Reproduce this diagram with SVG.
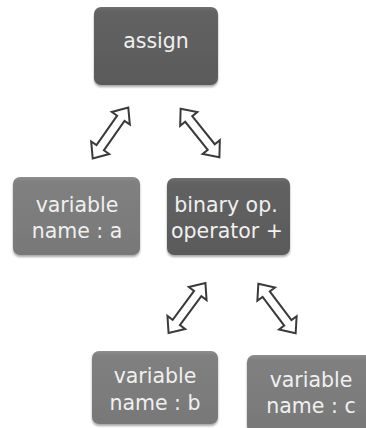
<svg xmlns="http://www.w3.org/2000/svg" width="366" height="428" viewBox="0 0 366 428">
  <defs>
    <linearGradient id="gDark" x1="0" y1="0" x2="0" y2="1">
      <stop offset="0" stop-color="#707070"/>
      <stop offset="0.06" stop-color="#626262"/>
      <stop offset="1" stop-color="#5a5a5a"/>
    </linearGradient>
    <linearGradient id="gLight" x1="0" y1="0" x2="0" y2="1">
      <stop offset="0" stop-color="#8e8e8e"/>
      <stop offset="0.06" stop-color="#808080"/>
      <stop offset="1" stop-color="#787878"/>
    </linearGradient>
    <filter id="shadow" x="-10%" y="-10%" width="120%" height="125%">
      <feGaussianBlur in="SourceAlpha" stdDeviation="1.2"/>
      <feOffset dx="0" dy="1.5" result="b"/>
      <feComponentTransfer><feFuncA type="linear" slope="0.35"/></feComponentTransfer>
      <feMerge><feMergeNode/><feMergeNode in="SourceGraphic"/></feMerge>
    </filter>
    <!-- hollow double-headed arrow, centred on the origin, pointing along x -->
    <path id="dblArrow" d="M-31,0 L-18,-11 L-18,-4.5 L18,-4.5 L18,-11 L31,0 L18,11 L18,4.5 L-18,4.5 L-18,11 Z"/>
  </defs>
  <style>
    .box { filter: url(#shadow); }
    .dark { fill: url(#gDark); }
    .light { fill: url(#gLight); }
    .label { font-family: "DejaVu Sans", Verdana, sans-serif; font-size: 20.5px; fill: #f0f0f0; text-anchor: middle; }
    .arrow { fill: #ffffff; stroke: #3a3a3a; stroke-width: 2; stroke-linejoin: miter; }
  </style>

  <g id="connectors">
    <use href="#dblArrow" class="arrow" transform="translate(110.5,133) rotate(-55)"/>
    <use href="#dblArrow" class="arrow" transform="translate(200,133) rotate(51.3)"/>
    <use href="#dblArrow" class="arrow" transform="translate(187,308) rotate(-53.5)"/>
    <use href="#dblArrow" class="arrow" transform="translate(277,308.5) rotate(53)"/>
  </g>

  <g id="assign">
    <rect class="box dark" x="94" y="7" width="124" height="78" rx="7"/>
    <text class="label" x="156" y="48">assign</text>
  </g>

  <g id="var-a">
    <rect class="box light" x="13" y="177" width="127" height="78" rx="7"/>
    <text class="label" x="77" y="212">variable</text>
    <text class="label" x="77" y="238">name : a</text>
  </g>

  <g id="binary-op">
    <rect class="box dark" x="167" y="178" width="123" height="77" rx="7"/>
    <text class="label" x="226" y="212">binary op.</text>
    <text class="label" x="227" y="238">operator +</text>
  </g>

  <g id="var-b">
    <rect class="box light" x="92" y="351" width="126" height="73" rx="7"/>
    <text class="label" x="155" y="383">variable</text>
    <text class="label" x="155" y="410">name : b</text>
  </g>

  <g id="var-c">
    <rect class="box light" x="247" y="355" width="128" height="78" rx="7"/>
    <text class="label" x="311" y="387">variable</text>
    <text class="label" x="311" y="413">name : c</text>
  </g>
</svg>
